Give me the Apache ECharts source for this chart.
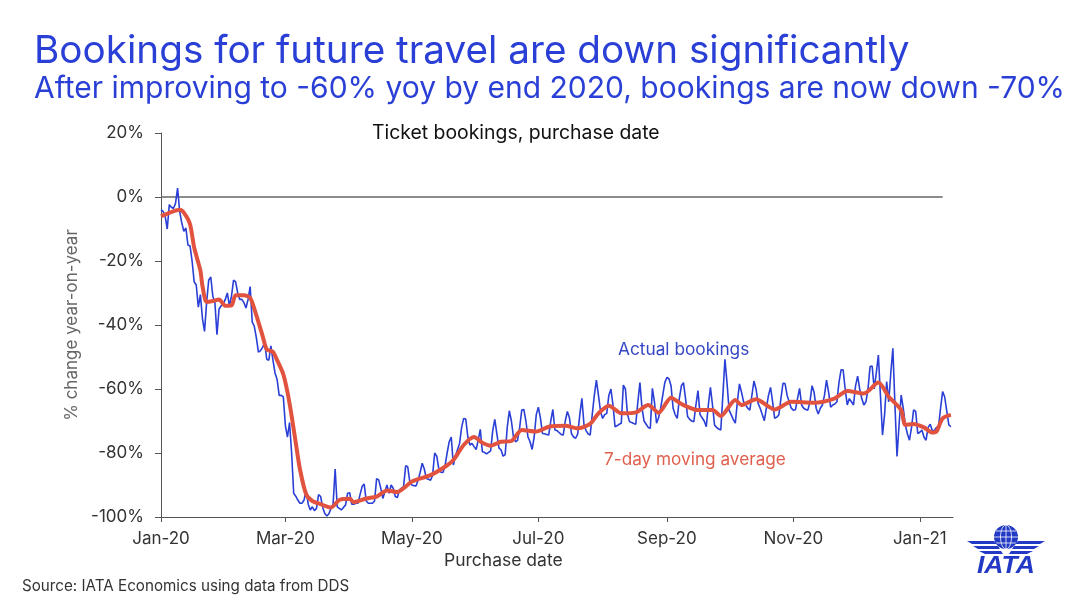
<!DOCTYPE html>
<html>
<head>
<meta charset="utf-8">
<title>Bookings for future travel</title>
<script src="https://cdn.jsdelivr.net/npm/echarts@6/dist/echarts.min.js"></script>
<style>
    html, body { margin: 0; padding: 0; background: #fff; }
    #chart { width: 1080px; height: 608px; }
</style>
</head>
<body>
<div id="chart"></div>
<script>
const tickDays = [0, 60, 121, 182, 244, 305, 366];
const tickLabels = ['Jan-20', 'Mar-20', 'May-20', 'Jul-20', 'Sep-20', 'Nov-20', 'Jan-21'];

// actual bookings, one reading per day since 1 Jan 2020 (% yoy)
const actualBookings = [
    -4, -4.5, -6, -10, -2.4, -3.2, -3.6, -2, 2.8, -4.5,
    -8, -10.7, -9.7, -15, -15.3, -20, -26.5, -27.5, -34.4, -30.5,
    -38, -42, -33, -26, -25, -31, -33, -43, -35, -34,
    -33.5, -32, -30, -34, -31, -26, -26.5, -30, -32, -32,
    -33, -34.7, -32, -28, -39, -40.4, -44, -48.5, -48, -47,
    -45.5, -50.7, -51, -46.5, -51, -55, -57, -62, -62, -62.5,
    -71.5, -75, -70.5, -80, -92.6, -93.5, -94.7, -95.7, -95.7, -94.7,
    -91.6, -96, -97.8, -96.8, -98, -97.3, -93, -93.6, -97, -98.9,
    -99.7, -99, -97.3, -96, -85, -96.8, -97.3, -97.8, -97, -96.3,
    -92.6, -92.4, -96, -96, -95.7, -95.7, -93, -90.5, -89.7, -95,
    -95.7, -95.7, -95.7, -95, -88, -88.4, -91, -94.2, -92, -90,
    -92.6, -90, -91, -93.6, -93.9, -91.5, -91, -90.5, -84, -84.3,
    -89, -90, -90.2, -90.3, -88.5, -86, -83.2, -85, -88, -88.2,
    -88.5, -87, -80, -81, -85, -86, -86.1, -84, -80, -76.5,
    -75, -83.75, -81, -79, -77, -72, -69.2, -69.4, -75, -77.5,
    -77, -78, -78.9, -76, -72.6, -79.6, -79.8, -80.3, -79.8, -79.3,
    -73, -69.5, -74, -78.5, -79, -81, -80.5, -72, -66.8, -70,
    -75, -76.5, -76, -72, -66.6, -66.4, -70, -75, -76.5, -78.9,
    -75, -68, -65.7, -69, -73.9, -74, -74.2, -74.4, -70, -66.4,
    -72.8, -73, -73.6, -74.2, -74.4, -70, -67, -69, -74, -75,
    -75.4, -74, -68, -62.9, -71, -73, -74, -74.4, -68, -62,
    -57.2, -62, -67, -69.2, -68, -67.6, -62, -60, -65, -71.8,
    -71.5, -71, -70.7, -58.8, -60, -68, -70.2, -70.5, -70.8, -71,
    -64, -58, -66, -70, -71, -72, -72.3, -59.8, -64, -70.7,
    -69, -66, -62, -58, -56.4, -56.8, -59, -66, -68, -69.2,
    -63, -59, -58, -63, -68.6, -69.5, -70, -70.2, -65, -60.5,
    -68, -69, -70, -71.8, -65, -59.5, -65, -71.3, -72, -72.5,
    -72.8, -62, -50.7, -58, -66.6, -68, -69.5, -70.7, -64, -58.4,
    -61, -64, -65, -66, -66.6, -62, -57.5, -60, -64.5, -66,
    -68, -69.9, -66, -62, -59.5, -64, -69.2, -68.8, -68.1, -63,
    -58.2, -58.3, -62, -64, -66, -66.6, -66.5, -63, -59.8, -65,
    -66, -66.4, -66.6, -64, -59, -61, -66, -67.8, -66, -65,
    -62, -57.2, -61, -65.7, -65, -64.7, -64, -58, -54, -54,
    -60, -65, -63, -64, -65, -59, -56, -60, -63, -65,
    -64, -60, -53, -52.8, -60, -55, -49.4, -62, -74.4, -68,
    -57.7, -64, -55, -47.3, -65, -81.1, -71, -61.9, -66, -71.2,
    -74, -76, -72, -66.5, -67, -73.9, -73.5, -72.8, -75, -76,
    -72, -71, -73, -73, -72, -72, -66, -60.8, -62.5, -67, -71.2, -71.8
];

// 7-day moving average, read at the days where the curve changes direction
const averageDays = [
    0, 5, 9, 11, 14, 16, 19, 20, 22, 25, 28, 31, 34, 36, 40, 43, 46, 49, 51, 54,
    56, 59, 61, 63, 65, 67, 70, 73, 77, 82, 86, 91, 93, 99, 104, 109, 114, 118, 121, 130,
    137, 141, 146, 151, 155, 159, 164, 169, 174, 181, 187, 195, 201, 207, 211, 216, 222, 229, 235, 240,
    246, 251, 259, 266, 270, 277, 280, 287, 296, 304, 315, 325, 331, 339, 346, 351, 357, 359, 363, 368,
    372, 374, 377, 381
];
const averageValues = [
    -6, -4.7, -4, -4.9, -8.5, -15.8, -23, -27.8, -32.8, -32.5, -32, -34, -33.9, -30.7, -30.7, -31.5, -37, -43.4, -47.6, -48.4,
    -51, -55.4, -61, -68.4, -76.8, -85, -92.9, -95, -96, -97, -94.7, -94.3, -95.4, -94.2, -93.6, -91.7, -92.2, -90.5, -88.9, -86.9,
    -84.3, -82.2, -77.5, -75, -76.8, -77.7, -76.5, -76.25, -72.8, -73.3, -71.8, -71.5, -72.3, -70.9, -67.6, -65.2, -67.6, -67.3, -65, -67.4,
    -62.7, -64.7, -66.6, -66.6, -68.4, -63.4, -65, -63.2, -66.4, -64, -64.3, -62.9, -60.6, -61.4, -58, -62.4, -66.6, -71.2, -70.9, -72,
    -73.6, -73.3, -69.2, -68.1
];

const zeroLineDays = [0, 377];
const zeroLineValues = [0, 0];

const fontName = 'Inter, "Noto Sans", sans-serif';
const blue = '#2a3fd6';
const red = '#e2533f';

const chart = echarts.init(document.getElementById('chart'));

function plainText(left, top, text, fontSize, color) {
    return {
        left: left, top: top, text: text, padding: 0,
        textStyle: {fontFamily: fontName, fontSize: fontSize, fontWeight: 'normal', color: color}
    };
}

const option = {
    animation: false,
    backgroundColor: '#fff',
    title: [
        plainText(34, 32, 'Bookings for future travel are down significantly', 38.7, blue),
        plainText(34, 74, 'After improving to -60% yoy by end 2020, bookings are now down -70%', 30, blue),
        plainText(372, 124, 'Ticket bookings, purchase date', 19.4, '#111'),
        plainText(618, 341, 'Actual bookings', 17.3, '#3547c4'),
        plainText(604, 451, '7-day moving average', 17.2, '#e0604e'),
        plainText(444, 552, 'Purchase date', 17.5, '#333'),
        plainText(22, 579, 'Source: IATA Economics using data from DDS', 15.2, '#333')
    ],
    grid: {left: 161, right: 127, top: 133, bottom: 91},
    xAxis: {
        type: 'value',
        min: 0,
        max: 382,
        splitLine: {show: false},
        axisLine: {onZero: false, lineStyle: {color: '#555', width: 1}},
        axisTick: {show: true, customValues: tickDays, length: 5, lineStyle: {color: '#555'}},
        axisLabel: {
            customValues: tickDays,
            formatter: value => tickLabels[tickDays.indexOf(value)],
            margin: 13,
            fontFamily: fontName,
            fontSize: 17,
            color: '#333'
        }
    },
    yAxis: {
        type: 'value',
        min: -100,
        max: 20,
        interval: 20,
        splitLine: {show: false},
        name: '% change year-on-year',
        nameLocation: 'middle',
        nameGap: 77,
        nameTextStyle: {fontFamily: fontName, fontSize: 17, color: '#666'},
        axisLine: {show: true, onZero: false, lineStyle: {color: '#555', width: 1}},
        axisTick: {show: true, length: 6, lineStyle: {color: '#555'}},
        axisLabel: {
            formatter: '{value}%',
            margin: 17,
            padding: [2, 0, 0, 0],
            fontFamily: fontName,
            fontSize: 17,
            color: '#333'
        }
    },
    series: [
        {
            name: 'Zero',
            type: 'line',
            symbol: 'none',
            lineStyle: {color: '#666', width: 1.4},
            data: zeroLineDays.map((d, i) => [d, zeroLineValues[i]])
        },
        {
            name: 'Actual bookings',
            type: 'line',
            symbol: 'none',
            lineStyle: {color: blue, width: 1.6},
            data: actualBookings.map((v, i) => [i, v])
        },
        {
            name: '7-day moving average',
            type: 'line',
            symbol: 'none',
            smooth: 0.25,
            lineStyle: {color: red, width: 4},
            data: averageDays.map((d, i) => [d, averageValues[i]])
        }
    ],
    // IATA logo
    graphic: {
        elements: [
            {type: 'circle', shape: {cx: 1006, cy: 537, r: 12}, style: {fill: '#2139c4'}},
            {type: 'ellipse', shape: {cx: 1006, cy: 537, rx: 5.5, ry: 12}, style: {fill: 'none', stroke: '#fff', lineWidth: 0.8}},
            {type: 'line', shape: {x1: 1006, y1: 525, x2: 1006, y2: 549}, style: {stroke: '#fff', lineWidth: 0.8}},
            {type: 'line', shape: {x1: 994, y1: 537, x2: 1018, y2: 537}, style: {stroke: '#fff', lineWidth: 0.8}},
            {type: 'line', shape: {x1: 996, y1: 531, x2: 1016, y2: 531}, style: {stroke: '#fff', lineWidth: 0.8}},
            {type: 'line', shape: {x1: 996, y1: 543, x2: 1016, y2: 543}, style: {stroke: '#fff', lineWidth: 0.8}},
            {type: 'polygon', shape: {points: [[967, 541], [994, 541], [997, 544], [972, 544]]}, style: {fill: '#2139c4'}},
            {type: 'polygon', shape: {points: [[973, 546], [998, 546], [1000, 549], [978, 549]]}, style: {fill: '#2139c4'}},
            {type: 'polygon', shape: {points: [[979, 551], [1001, 551], [1003, 554], [985, 554]]}, style: {fill: '#2139c4'}},
            {type: 'polygon', shape: {points: [[1045, 541], [1018, 541], [1015, 544], [1040, 544]]}, style: {fill: '#2139c4'}},
            {type: 'polygon', shape: {points: [[1039, 546], [1014, 546], [1012, 549], [1034, 549]]}, style: {fill: '#2139c4'}},
            {type: 'polygon', shape: {points: [[1033, 551], [1011, 551], [1009, 554], [1027, 554]]}, style: {fill: '#2139c4'}},
            {
                type: 'text', x: 977, y: 555, scaleX: 1.15,
                style: {
                    text: 'IATA', fill: '#2139c4',
                    font: 'italic bold 23px "Liberation Sans"'
                }
            }
        ]
    }
};

chart.setOption(option);
</script>
</body>
</html>
